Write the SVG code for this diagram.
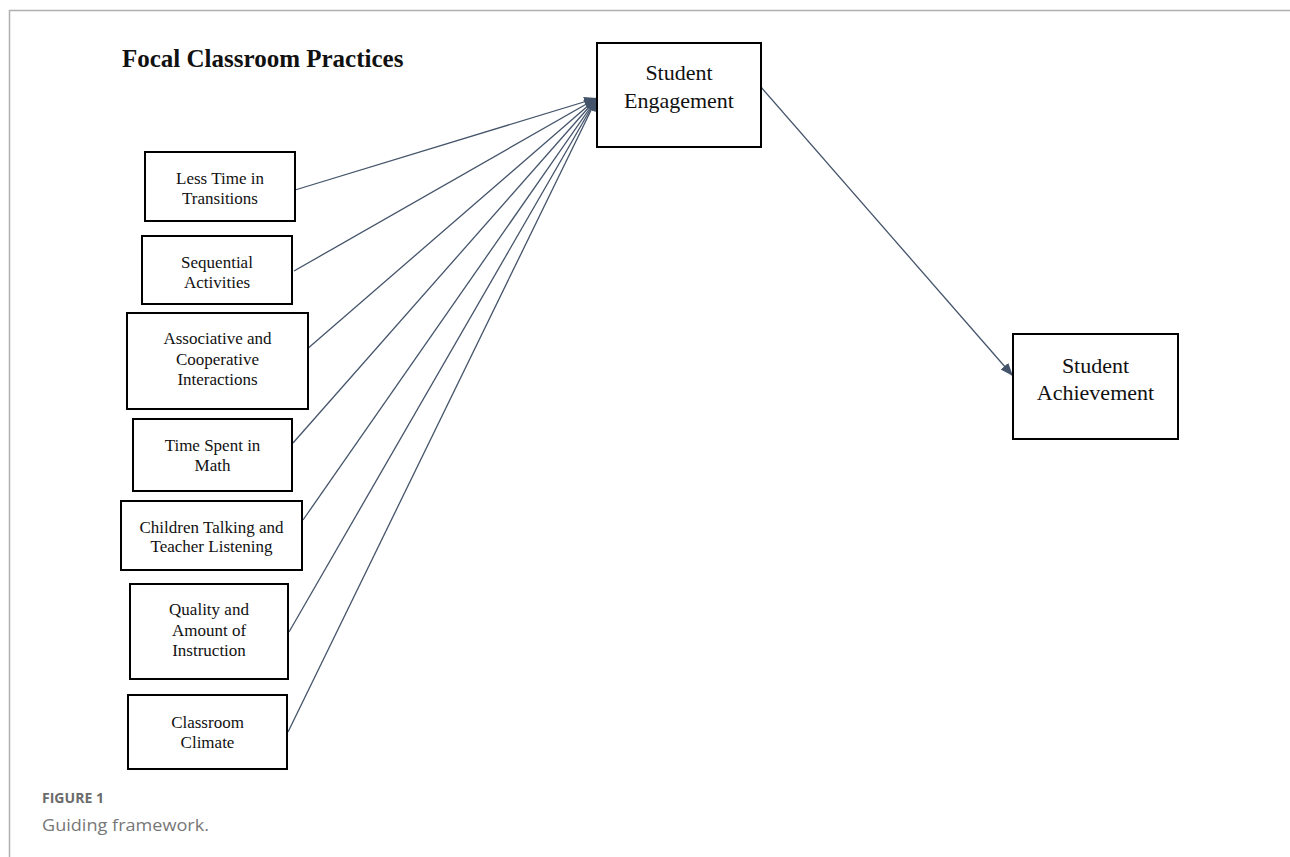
<svg xmlns="http://www.w3.org/2000/svg" width="1290" height="857" viewBox="0 0 1290 857">
<style>
.box{fill:#fff;stroke:#000;stroke-width:2}
.t{font-family:"Liberation Serif","Times New Roman",serif;font-size:17px;fill:#111;text-anchor:middle}
.tb{font-family:"Liberation Serif","Times New Roman",serif;font-size:22px;fill:#111;text-anchor:middle}
.conn{stroke:#44546A;stroke-width:1.3;fill:none;marker-end:url(#ah)}
.frame{stroke:#b0b0b0;stroke-width:1.5;fill:none}
</style>
<defs>
<marker id="ah" markerUnits="userSpaceOnUse" markerWidth="14" markerHeight="12" refX="13" refY="5" orient="auto">
<path d="M0,0 L13,5 L0,10 Z" fill="#44546A"/>
</marker>
</defs>
<rect width="1290" height="857" fill="#fff"/>
<path class="frame" d="M9.5,857 V10.5 H1290"/>
<text x="122" y="67" font-family="Liberation Serif,Times New Roman,serif" font-size="25" font-weight="bold" fill="#111">Focal Classroom Practices</text>
<g id="connectors">
<line class="conn" x1="295" y1="190" x2="597" y2="98"/>
<line class="conn" x1="294" y1="271" x2="597" y2="98"/>
<line class="conn" x1="306" y1="350" x2="597" y2="98"/>
<line class="conn" x1="293" y1="443" x2="597" y2="98"/>
<line class="conn" x1="303" y1="520" x2="597" y2="98"/>
<line class="conn" x1="289" y1="632" x2="597" y2="98"/>
<line class="conn" x1="288" y1="732" x2="597" y2="98"/>
<line class="conn" x1="761" y1="87" x2="1013" y2="376"/>
</g>
<g id="n1"><rect class="box" x="145" y="152" width="150" height="69"/>
<text class="t" x="220" y="183.5">Less Time in</text><text class="t" x="220" y="204">Transitions</text></g>
<g id="n2"><rect class="box" x="142" y="236" width="150" height="68"/>
<text class="t" x="217" y="267.5">Sequential</text><text class="t" x="217" y="287.5">Activities</text></g>
<g id="n3"><rect class="box" x="127" y="313" width="181" height="96"/>
<text class="t" x="217.5" y="344">Associative and</text><text class="t" x="217.5" y="364.5">Cooperative</text><text class="t" x="217.5" y="385">Interactions</text></g>
<g id="n4"><rect class="box" x="133" y="419" width="159" height="72"/>
<text class="t" x="212.5" y="450.5">Time Spent in</text><text class="t" x="212.5" y="470.5">Math</text></g>
<g id="n5"><rect class="box" x="121" y="501" width="181" height="69"/>
<text class="t" x="211.5" y="532.5">Children Talking and</text><text class="t" x="211.5" y="552">Teacher Listening</text></g>
<g id="n6"><rect class="box" x="130" y="584" width="158" height="95"/>
<text class="t" x="209" y="615">Quality and</text><text class="t" x="209" y="635.5">Amount of</text><text class="t" x="209" y="656">Instruction</text></g>
<g id="n7"><rect class="box" x="128" y="695" width="159" height="74"/>
<text class="t" x="207.5" y="727.5">Classroom</text><text class="t" x="207.5" y="747.5">Climate</text></g>
<g id="engagement"><rect class="box" x="597" y="43" width="164" height="104"/>
<text class="tb" x="679" y="80">Student</text><text class="tb" x="679" y="108">Engagement</text></g>
<g id="achievement"><rect class="box" x="1013" y="334" width="165" height="105"/>
<text class="tb" x="1095.5" y="373">Student</text><text class="tb" x="1095.5" y="400">Achievement</text></g>
<text x="42" y="803" font-family="Open Sans,Lato,sans-serif" font-size="14" font-weight="bold" fill="#6b6b6b" textLength="62" lengthAdjust="spacingAndGlyphs">FIGURE 1</text>
<text x="42" y="831" font-family="Open Sans,Lato,sans-serif" font-size="17" fill="#777" textLength="167" lengthAdjust="spacingAndGlyphs">Guiding framework.</text>
</svg>
